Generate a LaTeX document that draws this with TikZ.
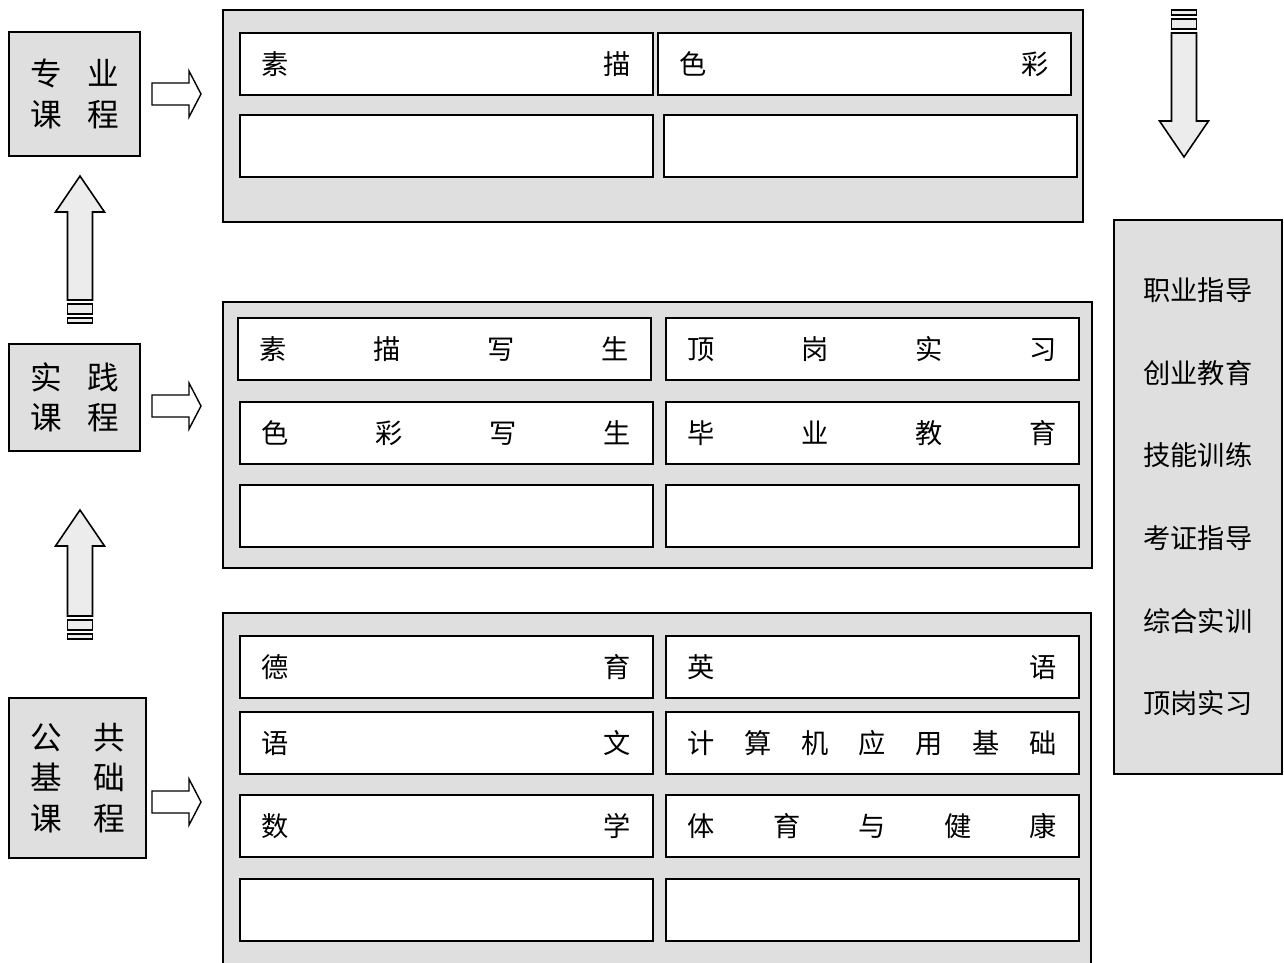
\documentclass[tikz,border=0pt]{standalone}
\usepackage{fontspec}
\newfontfamily\hei{Noto Sans CJK SC}
\usetikzlibrary{positioning}
\newcommand{\cellrow}[1]{\makebox[7.38cm]{#1}}

\begin{document}
\begin{tikzpicture}[x=0.02cm, y=-0.02cm, line width=1.1pt,
    lbox/.style={draw, fill=gray!25, anchor=north west, minimum width=2.62cm, inner sep=0pt,
      align=center, font=\hei\fontsize{18}{23}\selectfont},
    panel/.style={draw, fill=gray!25},
    cell/.style={draw, fill=white, anchor=north west, minimum width=8.26cm, minimum height=1.24cm,
      inner sep=0pt, font=\hei\fontsize{15.5}{18}\selectfont},
    rbox/.style={draw, fill=gray!25, anchor=north west, minimum width=3.36cm, minimum height=11.08cm,
      inner sep=0pt, align=center, font=\hei\fontsize{15.5}{47}\selectfont},
    pics/rarrow/.style={code={
      \draw[fill=white, line width=0.8pt] (0,-11) -- (37,-11) -- (37,-23) -- (49,0)
        -- (37,23) -- (37,11) -- (0,11) -- cycle;}},
    pics/uparrow/.style={code={
      \draw[fill=gray!15, line width=0.9pt] (0,0) -- (24.5,36) -- (12.5,36) -- (12.5,#1)
        -- (-12.5,#1) -- (-12.5,36) -- (-24.5,36) -- cycle;
      \draw[fill=gray!15, line width=0.9pt] (-12.5,#1+4) rectangle (12.5,#1+14);
      \draw[fill=gray!15, line width=0.9pt] (-12.5,#1+18) rectangle (12.5,#1+23);}}]

    \useasboundingbox (0,0) rectangle (1284,963);
    \clip (0,0) rectangle (1284,963);

    % Left column
    \node[lbox, minimum height=2.48cm] (zhuanye) at (8,31) {专\hspace{0.8em}业\\课\hspace{0.8em}程};
    \node[lbox, minimum height=2.14cm] (shijian) at (8,343) {实\hspace{0.8em}践\\课\hspace{0.8em}程};
    \node[lbox, minimum width=2.74cm, minimum height=3.2cm] (gonggong) at (8,697)
      {公\hspace{1em}共\\基\hspace{1em}础\\课\hspace{1em}程};

    % Arrows
    \pic at (152,94) {rarrow};
    \pic at (152,406) {rarrow};
    \pic at (152,802) {rarrow};
    \pic at (80,176) {uparrow=124};
    \pic at (80,510) {uparrow=106};
    \pic[rotate=180] at (1184,157) {uparrow=124};

    % Top panel
    \draw[panel] (223,10) rectangle (1083,222);
    \node[cell] (sumiao) at (239,32) {\cellrow{素\hfill 描}};
    \node[cell] (secai) at (657,32) {\cellrow{色\hfill 彩}};
    \node[cell] (zyempty1) at (239,114) {};
    \node[cell] (zyempty2) at (663,114) {};

    % Middle panel
    \draw[panel] (223,302) rectangle (1092,568);
    \node[cell] (sumiaoxs) at (237,317) {\cellrow{素\hfill 描\hfill 写\hfill 生}};
    \node[cell] (dinggang) at (665,317) {\cellrow{顶\hfill 岗\hfill 实\hfill 习}};
    \node[cell] (secaixs) at (239,401) {\cellrow{色\hfill 彩\hfill 写\hfill 生}};
    \node[cell] (biye) at (665,401) {\cellrow{毕\hfill 业\hfill 教\hfill 育}};
    \node[cell] (sjempty1) at (239,484) {};
    \node[cell] (sjempty2) at (665,484) {};

    % Bottom panel
    \draw[panel] (223,613) rectangle (1091,990);
    \node[cell] (deyu) at (239,635) {\cellrow{德\hfill 育}};
    \node[cell] (yingyu) at (665,635) {\cellrow{英\hfill 语}};
    \node[cell] (yuwen) at (239,711) {\cellrow{语\hfill 文}};
    \node[cell] (jisuanji) at (665,711) {\cellrow{计\hfill 算\hfill 机\hfill 应\hfill 用\hfill 基\hfill 础}};
    \node[cell] (shuxue) at (239,794) {\cellrow{数\hfill 学}};
    \node[cell] (tiyu) at (665,794) {\cellrow{体\hfill 育\hfill 与\hfill 健\hfill 康}};
    \node[cell] (ggempty1) at (239,878) {};
    \node[cell] (ggempty2) at (665,878) {};

    % Right column
    \node[rbox] (zhiye) at (1113,219) {职业指导\\创业教育\\技能训练\\考证指导\\综合实训\\顶岗实习};
\end{tikzpicture}
\end{document}
